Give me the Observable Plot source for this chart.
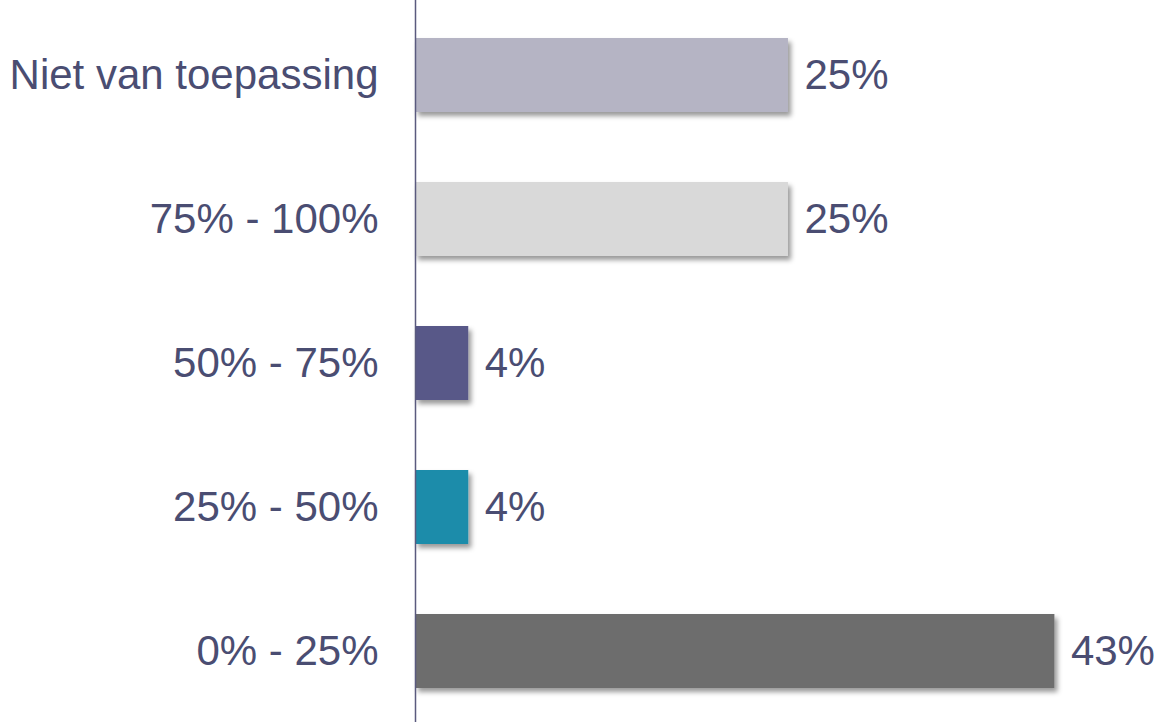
<!DOCTYPE html>
<html>
<head>
<meta charset="utf-8">
<script src="https://cdn.jsdelivr.net/npm/d3@7"></script>
<script src="https://cdn.jsdelivr.net/npm/@observablehq/plot@0.6"></script>
<style>
  html, body { margin: 0; padding: 0; background: #fff; }
  #chart { width: 1158px; height: 725px; }
</style>
</head>
<body>
<div id="chart"></div>
<script>
const categories = ["Niet van toepassing", "75% - 100%", "50% - 75%", "25% - 50%", "0% - 25%"];
const values = [25, 25, 3.57, 3.57, 42.86];
const labels = ["25%", "25%", "4%", "4%", "43%"];
const colors = ["#b5b4c4", "#d9d9d9", "#585888", "#1e8caa", "#6d6d6d"];

const data = categories.map((c, i) => ({category: c, value: values[i], label: labels[i], color: colors[i]}));

const textColor = "#4a4d72";
const font = "'Liberation Sans', Arial, sans-serif";
const fs = 42;

const plot = Plot.plot({
  width: 1158,
  height: 725,
  marginLeft: 415,
  marginRight: 12,
  marginTop: 2,
  marginBottom: 1,
  style: {fontFamily: font, fontSize: fs + "px", color: textColor, background: "#fff", overflow: "visible"},
  x: {domain: [0, 49], axis: null},
  y: {domain: categories, paddingInner: 0.488, paddingOuter: 0.24, label: null, tickSize: 0, tickPadding: 37},
  color: {type: "identity"},
  marks: [
    Plot.barX(data, {y: "category", x: "value", fill: "color"}),
    Plot.text(data, {y: "category", x: "value", text: "label", textAnchor: "start", dx: 16, fill: textColor, fontSize: fs}),
    Plot.ruleX([0], {stroke: "#5a5a7e", strokeWidth: 1.5})
  ]
});

// style y tick labels
plot.querySelectorAll("g[aria-label='y-axis tick label'] text").forEach(t => {
  t.setAttribute("fill", textColor);
  t.style.fontSize = fs + "px";
});

// extend axis line to the top of the chart
const rule = plot.querySelector("g[aria-label='rule'] line");
if (rule) { rule.setAttribute("y1", 0); rule.setAttribute("y2", 722); }

// drop shadow for bars
const ns = "http://www.w3.org/2000/svg";
const defs = document.createElementNS(ns, "defs");
defs.innerHTML = `<filter id="shadow" x="-10%" y="-20%" width="130%" height="160%">
  <feDropShadow dx="3" dy="4" stdDeviation="2.5" flood-color="#000" flood-opacity="0.4"/>
</filter>`;
plot.insertBefore(defs, plot.firstChild);
const barG = plot.querySelector("g[aria-label='bar']");
if (barG) barG.setAttribute("filter", "url(#shadow)");

document.getElementById("chart").appendChild(plot);
</script>
</body>
</html>
